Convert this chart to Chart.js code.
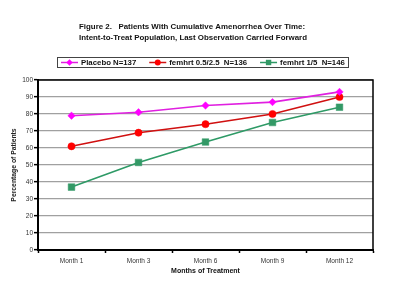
<!DOCTYPE html>
<html><head><meta charset="utf-8">
<script src="https://cdn.jsdelivr.net/npm/chart.js@4.4.1/dist/chart.umd.min.js"></script>
<style>html,body{margin:0;padding:0;background:#fff;}#wrap{width:400px;height:293px;}</style>
</head><body><div id="wrap"><canvas id="c" width="400" height="293"></canvas></div>
<script>
const months = ["Month 1", "Month 3", "Month 6", "Month 9", "Month 12"];
const placebo = [79, 81, 85, 87, 93];
const femhrtLow = [61, 69, 74, 80, 90];
const femhrtHigh = [37, 51.5, 63.5, 75, 84];
const seriesNames = ["Placebo N=137", "femhrt 0.5/2.5  N=136", "femhrt 1/5  N=146"];
const titleLines = ["Figure 2.   Patients With Cumulative Amenorrhea Over Time:", "Intent-to-Treat Population, Last Observation Carried Forward"];
const yTicks = [0,10,20,30,40,50,60,70,80,90,100];

const FONT = "Arial, 'Liberation Sans', sans-serif";

const decor = {
  id: 'decor',
  afterDraw(chart) {
    const ctx = chart.ctx, a = chart.chartArea;
    ctx.save();
    ctx.strokeStyle = '#000'; ctx.lineWidth = 1.5;
    ctx.beginPath();
    ctx.moveTo(a.left, a.top); ctx.lineTo(a.right, a.top); ctx.lineTo(a.right, a.bottom);
    ctx.stroke();
    ctx.fillStyle = '#111';
    ctx.font = 'bold 7.9px ' + FONT;
    ctx.textBaseline = 'middle'; ctx.textAlign = 'left';
    ctx.fillText(titleLines[0], 79, 27);
    ctx.fillText(titleLines[1], 79, 38);
    ctx.lineWidth = 1; ctx.strokeStyle = '#444';
    ctx.strokeRect(57.5, 57.5, 291, 10);
    ctx.font = 'bold 7.8px ' + FONT;
    let x = 61; const y = 62.5;
    chart.data.datasets.forEach((ds, i) => {
      ctx.strokeStyle = ds.borderColor; ctx.lineWidth = 1.5;
      ctx.beginPath(); ctx.moveTo(x, y); ctx.lineTo(x + 17, y); ctx.stroke();
      ctx.fillStyle = ds.pointBackgroundColor;
      const cx = x + 8.5;
      ctx.beginPath();
      if (ds.pointStyle === 'circle') ctx.arc(cx, y, 3, 0, Math.PI * 2);
      else if (ds.pointStyle === 'rect') ctx.rect(cx - 2.7, y - 2.7, 5.4, 5.4);
      else { ctx.moveTo(cx, y - 3.2); ctx.lineTo(cx + 3.2, y); ctx.lineTo(cx, y + 3.2); ctx.lineTo(cx - 3.2, y); ctx.closePath(); }
      ctx.fill();
      ctx.fillStyle = '#111';
      ctx.fillText(ds.label, x + 20, y + 0.5);
      x += 20 + ctx.measureText(ds.label).width + 13;
    });
    ctx.restore();
  }
};

new Chart(document.getElementById('c'), {
  type: 'line',
  data: {
    labels: months,
    datasets: [
      { label: seriesNames[0], data: placebo, borderColor: '#e020e0', backgroundColor: '#ff00ff', pointBackgroundColor: '#ff00ff', pointBorderColor: '#ff00ff', pointStyle: 'rectRot', pointRadius: 3.7, pointBorderWidth: 0.5, borderWidth: 1.6 },
      { label: seriesNames[1], data: femhrtLow, borderColor: '#d01010', backgroundColor: '#ff0000', pointBackgroundColor: '#ff0000', pointBorderColor: '#ff0000', pointStyle: 'circle', pointRadius: 3.6, pointBorderWidth: 0.5, borderWidth: 1.6 },
      { label: seriesNames[2], data: femhrtHigh, borderColor: '#2e9a66', backgroundColor: '#339966', pointBackgroundColor: '#339966', pointBorderColor: '#339966', pointStyle: 'rect', pointRadius: 4.7, pointBorderWidth: 0.5, borderWidth: 1.6 }
    ]
  },
  options: {
    responsive: false, animation: false, devicePixelRatio: 1,
    layout: { padding: { left: 0, right: 27, top: 80, bottom: 18 } },
    plugins: { legend: { display: false }, title: { display: false }, tooltip: { enabled: false } },
    scales: {
      x: {
        offset: true,
        grid: { display: true, offset: true, drawOnChartArea: false, tickLength: 3, tickColor: '#000', tickWidth: 1.5 },
        border: { display: true, color: '#000', width: 2 },
        ticks: { color: '#333', font: { family: FONT, size: 6.5 }, padding: 4, maxRotation: 0 },
        title: { display: true, text: 'Months of Treatment', color: '#111', font: { family: FONT, size: 7, weight: 'bold' }, padding: { top: 2, bottom: 0 } },
        afterFit(s) { s.height = 25; }
      },
      y: {
        min: 0, max: 100,
        afterBuildTicks(s) { s.ticks = yTicks.map(v => ({ value: v })); },
        grid: { color: '#a0a0a0', lineWidth: 1.3, tickLength: 4, tickColor: '#000', tickWidth: 1.5 },
        border: { display: true, color: '#000', width: 2 },
        ticks: { color: '#333', font: { family: FONT, size: 6.5 }, padding: 1 },
        title: { display: true, text: 'Percentage of Patients', color: '#222', font: { family: FONT, size: 6.8, weight: 'bold' }, padding: { top: 10, bottom: 0 } },
        afterFit(s) { s.width = 38; }
      }
    }
  },
  plugins: [decor]
});
</script></body></html>
